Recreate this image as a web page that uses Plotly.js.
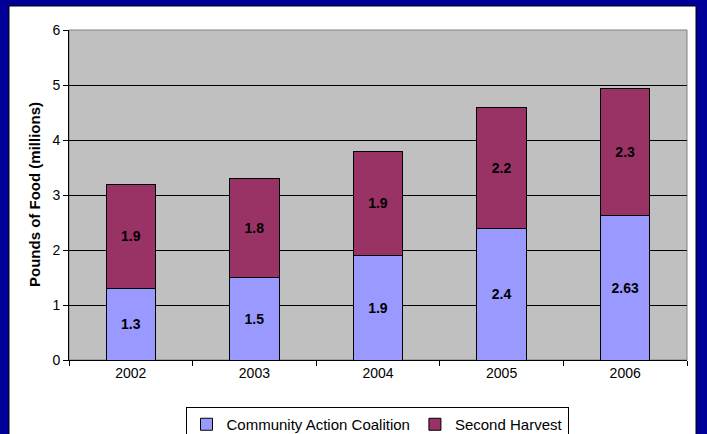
<!DOCTYPE html>
<html>
<head>
<meta charset="utf-8">
<script src="https://cdn.plot.ly/plotly-3.0.1.min.js"></script>
<style>html,body{margin:0;padding:0;background:#000099;}#chart{width:707px;height:434px;}</style>
</head>
<body>
<div id="chart"></div>
<script>
var years = ['2002', '2003', '2004', '2005', '2006'];
var communityAction = [1.3, 1.5, 1.9, 2.4, 2.63];
var secondHarvest = [1.9, 1.8, 1.9, 2.2, 2.3];
var seriesNames = ['Community Action Coalition', 'Second Harvest'];
var yTitle = 'Pounds of Food (millions)';

var FONT = 'Liberation Sans, Arial, sans-serif';

var traces = [
  {
    type: 'bar', name: seriesNames[0], x: years, y: communityAction,
    text: communityAction.map(String), textposition: 'inside', insidetextanchor: 'middle',
    textfont: {family: FONT, size: 14, color: '#000000', weight: 'bold'},
    marker: {color: '#9999FF', line: {color: '#000000', width: 1}},
    hoverinfo: 'none'
  },
  {
    type: 'bar', name: seriesNames[1], x: years, y: secondHarvest,
    text: secondHarvest.map(String), textposition: 'inside', insidetextanchor: 'middle',
    textfont: {family: FONT, size: 14, color: '#000000', weight: 'bold'},
    marker: {color: '#993366', line: {color: '#000000', width: 1}},
    hoverinfo: 'none'
  }
];

var L = 69, R = 687, T = 30, B = 360, W = 707, H = 434;
function px(x) { return (x - L) / (R - L); }
function py(y) { return (B - y) / (B - T); }

var layout = {
  width: W, height: H,
  margin: {l: L, r: W - R, t: T, b: H - B, pad: 0, autoexpand: false},
  paper_bgcolor: '#000099',
  plot_bgcolor: '#C0C0C0',
  barmode: 'stack',
  bargap: 0.6,
  font: {family: FONT, size: 14, color: '#000000'},
  showlegend: true,
  legend: {
    orientation: 'h', x: px(377), y: py(407), xanchor: 'center', yanchor: 'top',
    bgcolor: '#FFFFFF', bordercolor: '#000000', borderwidth: 1,
    font: {family: FONT, size: 15, color: '#000000'},
    traceorder: 'normal', itemwidth: 30
  },
  xaxis: {
    type: 'category', tickson: 'boundaries', ticks: 'outside', ticklen: 5, tickcolor: '#000000',
    showline: true, linecolor: '#000000', linewidth: 1, showgrid: false,
    tickfont: {family: FONT, size: 14, color: '#000000'}, fixedrange: true
  },
  yaxis: {
    range: [0, 6], dtick: 1, ticks: 'outside', ticklen: 5, tickcolor: '#000000',
    showline: true, linecolor: '#000000', linewidth: 1,
    showgrid: true, gridcolor: '#000000', gridwidth: 1, zeroline: false,
    tickfont: {family: FONT, size: 14, color: '#000000'}, fixedrange: true
  },
  shapes: [
    {type: 'rect', xref: 'paper', yref: 'paper', layer: 'below',
     x0: px(9), x1: px(696), y0: py(445), y1: py(6),
     fillcolor: '#FFFFFF', line: {color: '#000000', width: 1}},
    {type: 'rect', xref: 'paper', yref: 'paper', layer: 'below',
     x0: 0, x1: 1, y0: 0, y1: 1,
     fillcolor: '#C0C0C0', line: {color: '#808080', width: 1}}
  ],
  annotations: [
    {text: yTitle, xref: 'paper', yref: 'paper', x: px(34), y: 0.5,
     xanchor: 'center', yanchor: 'middle', textangle: -90, showarrow: false,
     font: {family: FONT, size: 15, color: '#000000', weight: 'bold'}}
  ]
};

Plotly.newPlot('chart', traces, layout, {displayModeBar: false, staticPlot: true});
</script>
</body>
</html>
